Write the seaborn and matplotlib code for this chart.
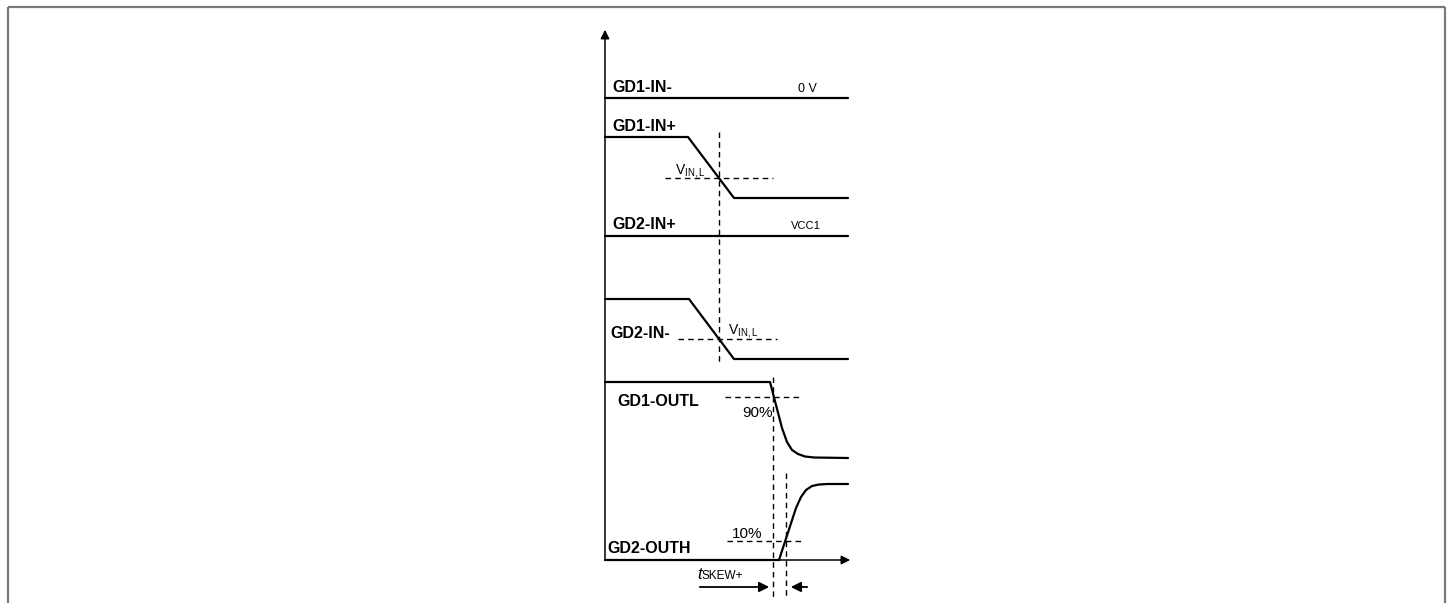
import matplotlib
matplotlib.use("Agg")
import matplotlib.pyplot as plt
import seaborn as sns

sns.set_theme(style="white")
plt.rcParams["font.family"] = ["Liberation Sans", "DejaVu Sans"]
plt.rcParams["text.color"] = "black"
plt.rcParams["mathtext.fontset"] = "custom"
plt.rcParams["mathtext.rm"] = "Liberation Sans"

# waveform samples (time, level), in pixel-like units
gd1_in_minus_t = [605, 848]
gd1_in_minus_v = [98, 98]
gd1_in_plus_t = [605, 688, 734, 848]
gd1_in_plus_v = [137, 137, 198, 198]
gd2_in_plus_t = [605, 848]
gd2_in_plus_v = [236, 236]
gd2_in_minus_t = [605, 689, 734, 848]
gd2_in_minus_v = [299, 299, 359, 359]
gd1_outl_t = [605, 770, 782, 787, 792, 798, 805, 814, 848]
gd1_outl_v = [382, 382, 428, 442, 450, 454, 456.5, 457.5, 458]
gd2_outh_t = [605, 779, 796, 801, 806, 812, 819, 828, 848]
gd2_outh_v = [560, 560, 508, 497, 490, 486, 484.5, 484, 484]

# label texts and anchor points (baselines)
signal_names = ["GD1-IN-", "GD1-IN+", "GD2-IN+", "GD2-IN-", "GD1-OUTL", "GD2-OUTH"]
name_x = [612, 612, 612, 610, 617, 607]
name_y = [92, 131, 229, 338, 406, 553]

fig = plt.figure(figsize=(14.53, 6.03), dpi=100)
ax = fig.add_axes([0, 0, 1, 1])
ax.set_xlim(0, 1453)
ax.set_ylim(603, 0)
ax.axis("off")

# outer frame
frame_kw = dict(color="#7a7a7a", lw=1.6, solid_capstyle="butt")
ax.plot([8, 8], [603, 7], **frame_kw)
ax.plot([8, 1445], [7, 7], **frame_kw)
ax.plot([1445, 1445], [7, 603], **frame_kw)

# axes with arrows
ax.plot([605, 605], [560, 36], color="black", lw=1.1)
ax.annotate("", xy=(605, 27), xytext=(605, 40),
            arrowprops=dict(arrowstyle="-|>", color="black", lw=1.1, mutation_scale=13))
ax.plot([605, 842], [560, 560], color="black", lw=1.1)
ax.annotate("", xy=(853, 560), xytext=(838, 560),
            arrowprops=dict(arrowstyle="-|>", color="black", lw=1.1, mutation_scale=13))

waves = [(gd1_in_minus_t, gd1_in_minus_v), (gd1_in_plus_t, gd1_in_plus_v),
         (gd2_in_plus_t, gd2_in_plus_v), (gd2_in_minus_t, gd2_in_minus_v),
         (gd1_outl_t, gd1_outl_v), (gd2_outh_t, gd2_outh_v)]
for t, v in waves:
    sns.lineplot(x=t, y=v, ax=ax, sort=False, estimator=None, color="black", lw=1.6)

# dashed guides
dash = dict(color="black", lw=1.0, ls=(0, (4, 3)))
ax.plot([719, 719], [132, 364], **dash)
ax.plot([665, 773], [178, 178], **dash)
ax.plot([678, 777], [339, 339], **dash)
ax.plot([725, 802], [397, 397], **dash)
ax.plot([727, 803], [541, 541], **dash)
ax.plot([773, 773], [377, 597], **dash)
ax.plot([786, 786], [473, 597], **dash)

# signal names
for name, x, y in zip(signal_names, name_x, name_y):
    ax.text(x, y, name, fontsize=11.5, fontweight="bold", ha="left", va="baseline")

ax.text(798, 92, "0 V", fontsize=9, ha="left", va="baseline")
ax.text(791, 229, "VCC1", fontsize=8, ha="left", va="baseline")
ax.text(675, 174, r"V$_{\mathregular{IN,L}}$", fontsize=10, ha="left", va="baseline")
ax.text(728, 334, r"V$_{\mathregular{IN,L}}$", fontsize=10, ha="left", va="baseline")
ax.text(773, 417, "90%", fontsize=11, ha="right", va="baseline")
ax.text(732, 538, "10%", fontsize=11, ha="left", va="baseline")

# tSKEW+ annotation
ax.text(697, 579, "t", fontsize=12, fontstyle="italic", ha="left", va="baseline")
ax.text(702, 579, "SKEW+", fontsize=8.5, ha="left", va="baseline")
ax.annotate("", xy=(772, 587), xytext=(697, 587),
            arrowprops=dict(arrowstyle="-|>", color="black", lw=1.3, mutation_scale=15))
ax.annotate("", xy=(788, 587), xytext=(810, 587),
            arrowprops=dict(arrowstyle="-|>", color="black", lw=1.3, mutation_scale=15))

fig.savefig("out.png", dpi=100, facecolor="white")
